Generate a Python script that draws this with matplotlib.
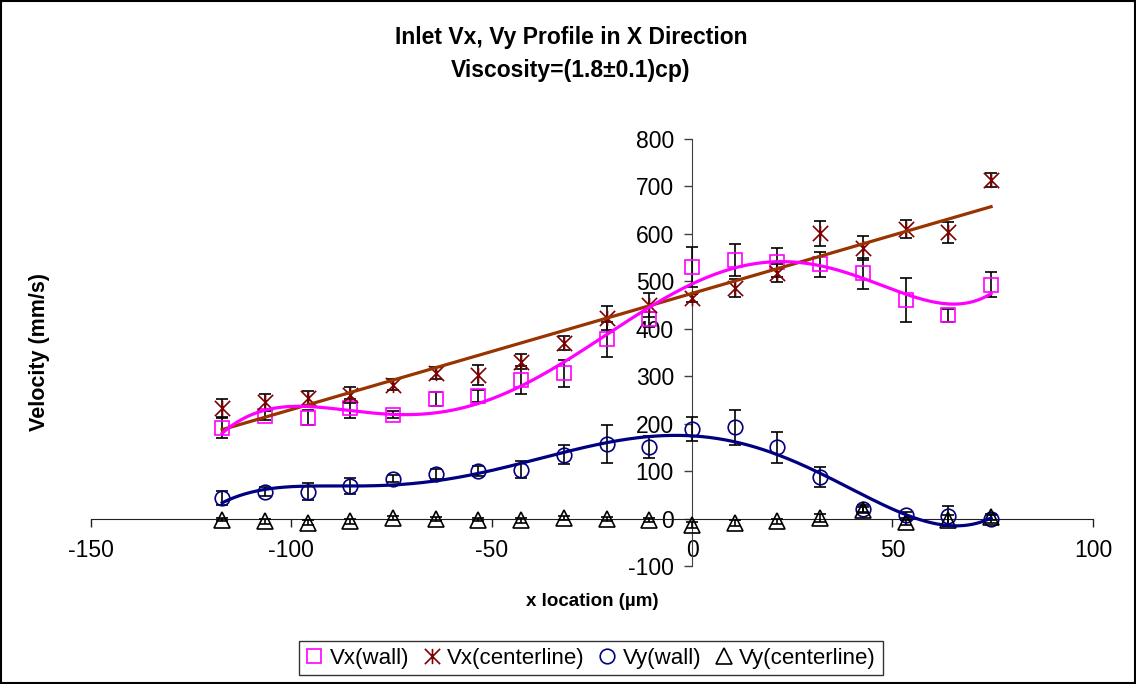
import numpy as np
import matplotlib
matplotlib.use('Agg')
from matplotlib import pyplot as plt
from matplotlib.lines import Line2D
from matplotlib.patches import Rectangle
from matplotlib.path import Path

plt.rcParams['font.family'] = ['Liberation Sans', 'DejaVu Sans']
plt.rcParams['axes.unicode_minus'] = False

# x positions across the inlet (um)
x_loc = [-117.2, -106.5, -95.9, -85.2, -74.6, -63.9, -53.3, -42.6, -32.0, -21.3,
         -10.7, 0.0, 10.7, 21.3, 32.0, 42.6, 53.3, 63.9, 74.6]

# velocities (mm/s) and their error bars
vx_wall = [191, 217, 213, 232, 219, 252, 259, 292, 306, 378,
           420, 530, 545, 540, 536, 517, 460, 428, 493]
vx_wall_err = [21, 10, 15, 20, 8, 14, 13, 30, 28, 37,
               16, 42, 34, 30, 26, 33, 46, 13, 27]

vx_center = [233, 245, 254, 261, 282, 307, 303, 331, 370, 422,
             450, 465, 486, 517, 601, 570, 611, 603, 714]
vx_center_err = [18, 18, 15, 17, 12, 12, 21, 16, 15, 25,
                 26, 8, 18, 19, 26, 26, 19, 23, 15]

vy_wall = [43, 57, 57, 68, 84, 94, 100, 103, 135, 157,
           150, 189, 192, 150, 87, 20, 7, 5, -1]
vy_wall_err = [15, 10, 18, 17, 7, 10, 10, 18, 21, 40,
               23, 26, 36, 33, 21, 8, 6, 21, 8]

vy_center = [-2, -6, -9, -6, 2, -1, -2, -4, 2, -1,
             -3, -14, -9, -6, 1, 19, -8, -4, 3]
vy_center_err = [4, 5, 5, 6, 4, 4, 4, 5, 4, 4,
                 4, 6, 6, 5, 8, 6, 5, 12, 6]

# smoothed trend values for the wall series at the same x positions
trend_vx_wall = [180, 228, 236, 228, 220, 222, 244, 279, 328, 387,
                 447, 496, 528, 538, 535, 507, 472, 453, 474]
trend_vy_wall = [33, 62, 68, 69, 69, 81, 96, 117, 138, 159,
                 173, 175, 163, 135, 93, 51, 8, -14, 1]

x_ticks = [-150, -100, -50, 0, 50, 100]
y_ticks = [-100, 0, 100, 200, 300, 400, 500, 600, 700, 800]

MAGENTA = '#FF00FF'
DARKRED = '#800000'
BROWN = '#993300'
NAVY = '#000080'

# X with a vertical bar through it (spreadsheet style "star" marker)
star = Path([(-1, -1), (1, 1), (-1, 1), (1, -1), (0, -1), (0, 1)],
            [Path.MOVETO, Path.LINETO, Path.MOVETO, Path.LINETO, Path.MOVETO, Path.LINETO])

fig = plt.figure(figsize=(11.36, 6.84), dpi=100)
ax = fig.add_axes([0.0798, 0.1725, 0.8823, 0.6243])

x = np.array(x_loc)
series = [
    (vx_wall, vx_wall_err, 's', MAGENTA, 10, 'Vx(wall)'),
    (vx_center, vx_center_err, star, DARKRED, 11, 'Vx(centerline)'),
    (vy_wall, vy_wall_err, 'o', NAVY, 10.5, 'Vy(wall)'),
    (vy_center, vy_center_err, '^', 'black', 11, 'Vy(centerline)'),
]

handles = []
for vals, errs, mk, col, ms, lab in series:
    ax.errorbar(x, vals, yerr=errs, fmt='none', ecolor='black',
                elinewidth=1.2, capsize=4.5, capthick=1.2, zorder=3)
    ax.plot(x, vals, linestyle='none', marker=mk, mfc='none', mec=col,
            ms=ms, mew=1.2, zorder=4)
    handles.append(Line2D([], [], linestyle='none', marker=mk, mfc='none',
                          mec=col, ms=ms, mew=1.2, label=lab))

# trendlines: linear for centerline Vx, 6th order polynomial through the wall trends
xx = np.linspace(x[0], x[-1], 400)
lin = np.polynomial.Polynomial.fit(x, vx_center, 1)
ax.plot(xx, lin(xx), color=BROWN, lw=2.3, zorder=5)
poly_vx = np.polynomial.Polynomial.fit(x, trend_vx_wall, 6)
ax.plot(xx, poly_vx(xx), color=MAGENTA, lw=2.3, zorder=5)
poly_vy = np.polynomial.Polynomial.fit(x, trend_vy_wall, 6)
ax.plot(xx, poly_vy(xx), color=NAVY, lw=2.3, zorder=5)

ax.set_xlim(-150, 100)
ax.set_ylim(-100, 800)
ax.set_xticks(x_ticks)
ax.set_yticks(y_ticks)

for s in ('top', 'right'):
    ax.spines[s].set_visible(False)
ax.spines['left'].set_position(('data', 0))
ax.spines['bottom'].set_position(('data', 0))
ax.spines['left'].set_color('#404040')
ax.spines['bottom'].set_color('#202020')
ax.tick_params(axis='x', direction='out', length=6, width=1, pad=9,
               labelsize=16.5, color='#202020')
ax.tick_params(axis='y', direction='out', length=6, width=1, pad=7,
               labelsize=16.5, color='#404040')
ax.patch.set_visible(False)

fig.text(0.5026, 0.921, 'Inlet Vx, Vy Profile in X Direction\nViscosity=(1.8\u00b10.1)cp)',
         ha='center', va='center', fontsize=16.5, fontweight='bold', linespacing=1.6)
fig.text(0.521, 0.1213, 'x location (\u00b5m)', ha='center', va='center',
         fontsize=13.5, fontweight='bold')
fig.text(0.035, 0.485, 'Velocity (mm/s)', ha='center', va='center',
         rotation=90, fontsize=15.5, fontweight='bold')

leg = fig.legend(handles=handles, loc='center', bbox_to_anchor=(0.52, 0.038),
                 ncol=4, fontsize=16, frameon=True, fancybox=False,
                 handlelength=0.8, handletextpad=0.3, columnspacing=0.6,
                 borderpad=0.3, edgecolor='black')
leg.get_frame().set_linewidth(1.0)

fig.patches.append(Rectangle((0.001, 0.0015), 0.998, 0.997, transform=fig.transFigure,
                             fill=False, edgecolor='black', linewidth=1.5))

fig.savefig('out.png', dpi=100)
